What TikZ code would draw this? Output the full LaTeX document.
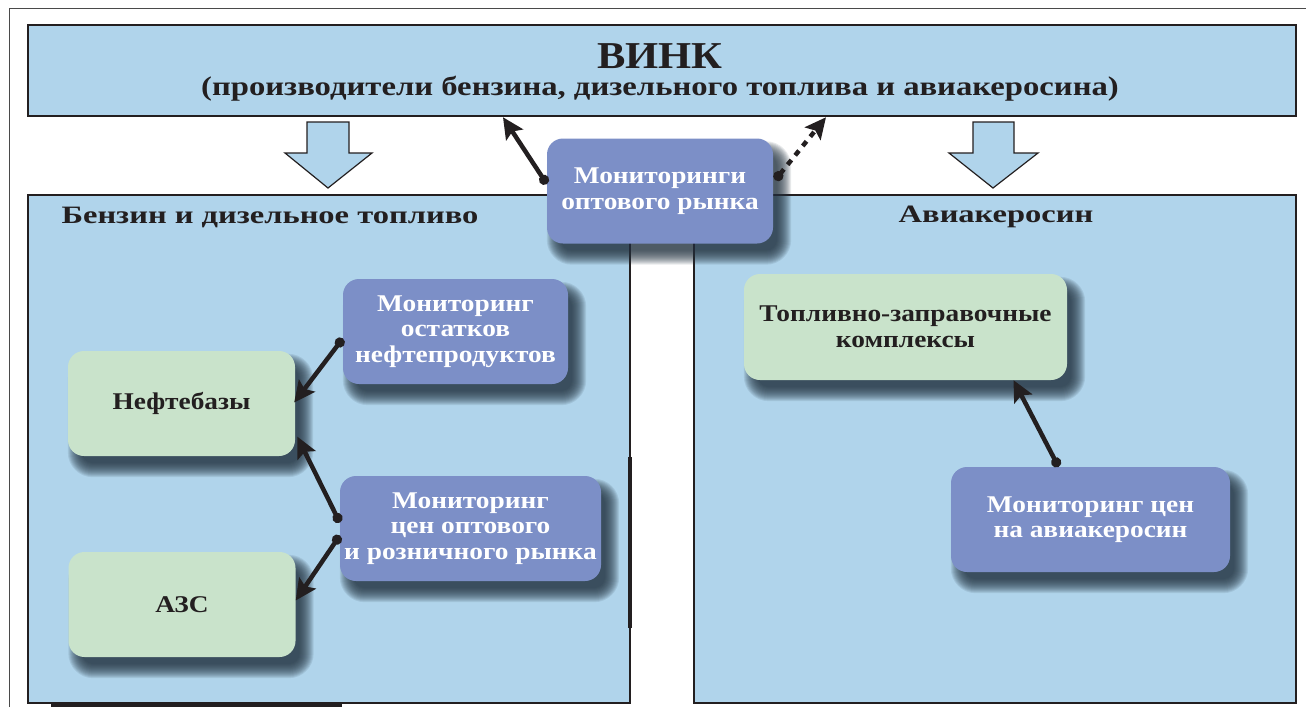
\documentclass[tikz,border=0pt]{standalone}
\usepackage{fontspec}
\setmainfont{Liberation Serif}[FakeStretch=1.14]
\newfontfamily\headingfont{Liberation Serif}[FakeStretch=1.3]
\newfontfamily\subtitlefont{Liberation Serif}[FakeStretch=1.21]
\newfontfamily\namefont{Liberation Serif}[FakeStretch=1.12]
\usetikzlibrary{arrows.meta,calc}

\definecolor{ink}{HTML}{231F20}
\definecolor{panelblue}{HTML}{B0D4EB}
\definecolor{monblue}{HTML}{7C8FC7}
\definecolor{paleGreen}{HTML}{C9E3CB}
\definecolor{framegray}{HTML}{4A4A4A}
\definecolor{shadecol}{HTML}{22323F}

\pgfdeclarelayer{panels}
\pgfdeclarelayer{shade}
\pgfsetlayers{panels,shade,main}

% soft drop shadow under a named box, built from stacked translucent layers
\newcommand\softshadow[1]{%
  \foreach \d [evaluate=\d as \r using 16+\d] in {-5,...,9}{
    \fill[shadecol, opacity=0.1, rounded corners=\r pt]
      ($(#1.north west)+(9-\d,12-\d)$) rectangle ($(#1.south east)+(9+\d,12+\d)$);
  }}

\begin{document}
\begin{tikzpicture}[x=1pt,y=-1pt,
  panel/.style={draw=ink, line width=2pt, fill=panelblue, inner sep=0pt},
  heading/.style={text=ink, font=\headingfont\bfseries\fontsize{25}{28}\selectfont, inner sep=0pt},
  boxtext/.style={font=\bfseries\fontsize{24}{25.5}\selectfont, align=center, inner sep=0pt},
  monbox/.style={rounded corners=16pt, fill=monblue, text=white, boxtext},
  sitebox/.style={rounded corners=16pt, fill=paleGreen, text=ink, boxtext},
  conn/.style={line width=4.5pt, draw=ink,
      {Circle[length=10pt]}-{Stealth[length=21pt,width=20pt,inset=4pt]}},
  dotconn/.style={conn, dash pattern=on 6pt off 6pt},
  flowarrow/.style={draw=ink, line width=1.2pt, fill=panelblue, line join=miter},
]
\useasboundingbox (0,0) rectangle (1306,707);

\begin{pgfonlayer}{panels}
% thin outer frame
\draw[framegray, line width=0.8pt] (9.5,707) -- (9.5,8) -- (1306,8);

% producers box
\node[panel, line width=2.5pt, minimum width=1268pt, minimum height=91pt] (vink) at (662,70.5) {};
\node[text=ink, font=\namefont\bfseries\fontsize{38}{40}\selectfont, inner sep=0pt] (vinkname) at (660,56) {ВИНК};
\node[text=ink, font=\subtitlefont\bfseries\fontsize{27}{28}\selectfont, inner sep=0pt] (vinksub) at (660,89)
  {(производители бензина, дизельного топлива и авиакеросина)};

% supply arrows down into the two segments
\draw[flowarrow] (307,122) -- (349,122) -- (349,153) -- (372,153) -- (328,188)
  -- (285,153) -- (307,153) -- cycle;
\draw[flowarrow] (973,122) -- (1014,122) -- (1014,153) -- (1038,153) -- (993,188)
  -- (949,153) -- (973,153) -- cycle;

% two market segments
\node[panel, minimum width=602pt, minimum height=508pt] (petrol) at (329,449) {};
\node[panel, minimum width=602pt, minimum height=508pt] (avia) at (995,449) {};
\node[heading] (petroltitle) at (270,217) {Бензин и дизельное топливо};
\node[heading] (aviatitle) at (996,217) {Авиакеросин};

% heavy rules at the edges
\draw[ink, line width=4pt] (630,457) -- (630,628);
\draw[ink, line width=4.5pt] (51,705) -- (342,705);
\end{pgfonlayer}

% sites
\node[sitebox, minimum width=227pt, minimum height=105pt] (depots) at (181.5,403.5) {Нефтебазы};
\node[sitebox, minimum width=227pt, minimum height=105pt] (stations) at (182,604.5) {АЗС};
\node[sitebox, minimum width=323pt, minimum height=106pt] (tzk) at (905.5,327)
  {Топливно-заправочные\\комплексы};

% monitoring
\node[monbox, minimum width=226pt, minimum height=105pt] (wholesale) at (660,191)
  {Мониторинги\\оптового рынка};
\node[monbox, minimum width=225pt, minimum height=105pt] (stock) at (455.5,331.5)
  {Мониторинг\\остатков\\нефтепродуктов};
\node[monbox, minimum width=261pt, minimum height=105pt] (prices) at (470.5,528.5)
  {Мониторинг\\цен оптового\\и розничного рынка};
\node[monbox, minimum width=279pt, minimum height=105pt] (jetprices) at (1090.5,519.5)
  {Мониторинг цен\\на авиакеросин};

\begin{pgfonlayer}{shade}
\softshadow{depots}
\softshadow{stations}
\softshadow{tzk}
\softshadow{wholesale}
\softshadow{stock}
\softshadow{prices}
\softshadow{jetprices}
\end{pgfonlayer}

% connectors
\draw[conn] ([yshift=7pt]wholesale.west) -- ([xshift=-159pt]vink.south);
\draw[dotconn] ([xshift=2pt,yshift=11pt]wholesale.east) -- ([xshift=164pt]vink.south);
\draw[conn] ([yshift=-7pt]stock.west) -- ([xshift=-1pt,yshift=1pt]depots.east);
\draw[conn] ([yshift=6pt]prices.west) -- ([xshift=2pt,yshift=-33pt]depots.east);
\draw[conn] ([yshift=-7pt]prices.west) -- ([yshift=4pt]stations.east);
\draw[conn] ([xshift=-32pt]jetprices.north) -- ([xshift=108pt]tzk.south);
\end{tikzpicture}
\end{document}
